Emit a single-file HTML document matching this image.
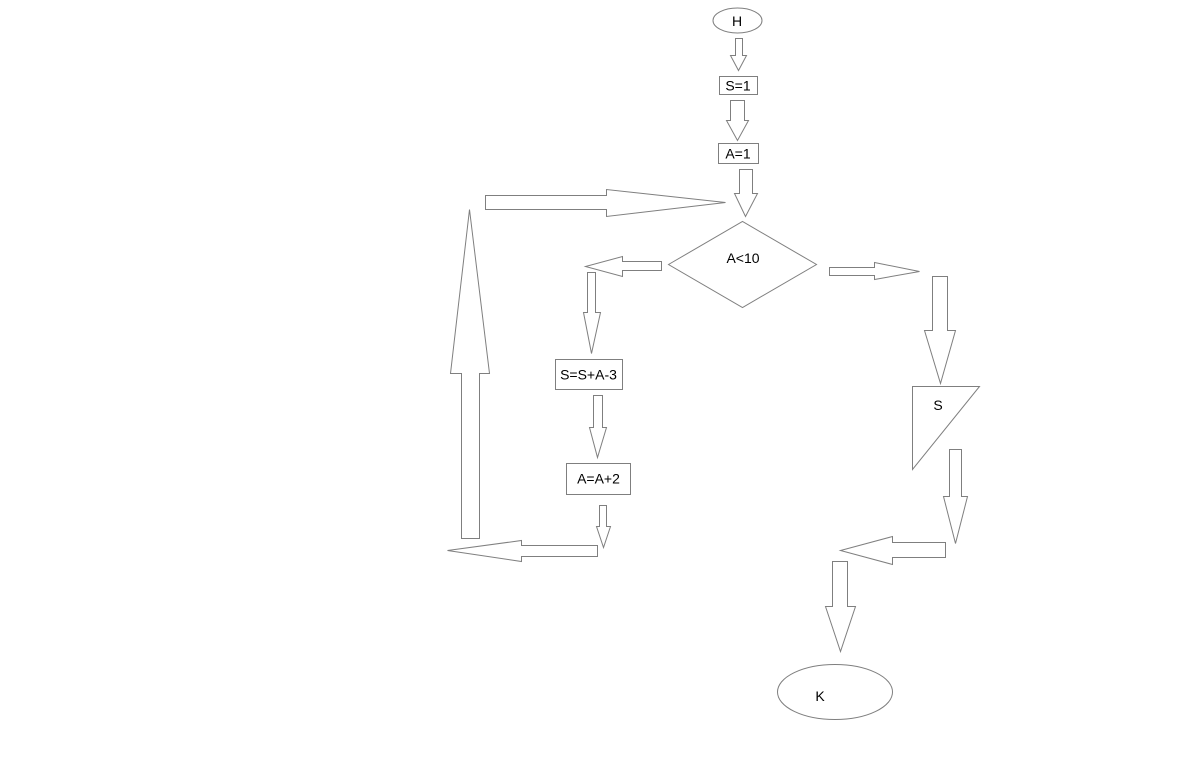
<!DOCTYPE html>
<html>
<head>
<meta charset="utf-8">
<style>
  html, body { margin: 0; padding: 0; background: #ffffff; }
  body { width: 1200px; height: 780px; overflow: hidden; }
  svg { display: block; }
  .s { fill: #ffffff; stroke: #7f7f7f; stroke-width: 1; }
  .t { font-family: "Liberation Sans", Arial, sans-serif; font-size: 14px; fill: #000; text-anchor: middle; dominant-baseline: central; }
</style>
</head>
<body>
<svg width="1200" height="780" viewBox="0 0 1200 780" xmlns="http://www.w3.org/2000/svg">
  <!-- H ellipse -->
  <ellipse class="s" cx="737.5" cy="20.5" rx="24.5" ry="12.5"/>
  <text class="t" x="737" y="21">H</text>

  <!-- arrow H -> S=1 -->
  <polygon class="s" points="735.5,38.5 742.5,38.5 742.5,55.5 746.5,55.5 738.5,70.5 730.5,55.5 735.5,55.5"/>

  <!-- S=1 box -->
  <rect class="s" x="719.5" y="76.5" width="38" height="18"/>
  <text class="t" x="738" y="85.5">S=1</text>

  <!-- arrow S=1 -> A=1 -->
  <polygon class="s" points="730.5,100.5 744.5,100.5 744.5,120.5 748.5,120.5 737.5,140.5 726.5,120.5 730.5,120.5"/>

  <!-- A=1 box -->
  <rect class="s" x="718.5" y="143.5" width="40" height="20"/>
  <text class="t" x="738" y="153.5">A=1</text>

  <!-- arrow A=1 -> diamond -->
  <polygon class="s" points="739.5,169.5 752.5,169.5 752.5,193.5 757.5,193.5 745.5,216.5 734.5,193.5 739.5,193.5"/>

  <!-- big right arrow (loop return) -->
  <polygon class="s" points="485.5,195.5 606.5,195.5 606.5,189.5 725.5,202.5 606.5,216.5 606.5,209.5 485.5,209.5"/>

  <!-- diamond -->
  <polygon class="s" points="668.5,264.5 742.5,221.5 816.5,264.5 742.5,307.5"/>
  <text class="t" x="743" y="258">A&lt;10</text>

  <!-- left arrow from diamond -->
  <polygon class="s" points="661.5,261.5 622.5,261.5 622.5,256.5 585.5,266.5 622.5,276.5 622.5,270.5 661.5,270.5"/>

  <!-- down arrow to S=S+A-3 -->
  <polygon class="s" points="587.5,272.5 595.5,272.5 595.5,312.5 600.5,312.5 591.5,353.5 583.5,312.5 587.5,312.5"/>

  <!-- S=S+A-3 box -->
  <rect class="s" x="555.5" y="359.5" width="67" height="30"/>
  <text class="t" x="588.5" y="374.5">S=S+A-3</text>

  <!-- arrow to A=A+2 -->
  <polygon class="s" points="593.5,395.5 602.5,395.5 602.5,427.5 606.5,427.5 597.5,457.5 589.5,427.5 593.5,427.5"/>

  <!-- A=A+2 box -->
  <rect class="s" x="566.5" y="463.5" width="64" height="31"/>
  <text class="t" x="598.5" y="478.5">A=A+2</text>

  <!-- small down arrow -->
  <polygon class="s" points="599.5,505.5 606.5,505.5 606.5,526.5 610.5,526.5 603.5,547.5 596.5,526.5 599.5,526.5"/>

  <!-- bottom-left left arrow -->
  <polygon class="s" points="597.5,545.5 521.5,545.5 521.5,540.5 447.5,550.5 521.5,561.5 521.5,556.5 597.5,556.5"/>

  <!-- big up arrow -->
  <polygon class="s" points="461.5,538.5 461.5,373.5 450.5,373.5 469.5,209.5 489.5,373.5 479.5,373.5 479.5,538.5"/>

  <!-- right arrow from diamond -->
  <polygon class="s" points="829.5,267.5 874.5,267.5 874.5,262.5 919.5,271.5 874.5,279.5 874.5,275.5 829.5,275.5"/>

  <!-- down arrow to triangle -->
  <polygon class="s" points="932.5,276.5 947.5,276.5 947.5,330.5 955.5,330.5 940.5,383.5 924.5,330.5 932.5,330.5"/>

  <!-- triangle S -->
  <polygon class="s" points="912.5,386.5 979.5,386.5 912.5,469.5"/>
  <text class="t" x="938" y="405">S</text>

  <!-- down arrow below triangle -->
  <polygon class="s" points="949.5,449.5 961.5,449.5 961.5,496.5 967.5,496.5 955.5,543.5 943.5,496.5 949.5,496.5"/>

  <!-- left arrow bottom right -->
  <polygon class="s" points="945.5,542.5 892.5,542.5 892.5,536.5 840.5,550.5 892.5,564.5 892.5,557.5 945.5,557.5"/>

  <!-- down arrow to K -->
  <polygon class="s" points="832.5,561.5 847.5,561.5 847.5,606.5 855.5,606.5 840.5,651.5 825.5,606.5 832.5,606.5"/>

  <!-- K ellipse -->
  <ellipse class="s" cx="835" cy="692" rx="57.5" ry="27.5"/>
  <text class="t" x="820" y="696">K</text>
</svg>
</body>
</html>
